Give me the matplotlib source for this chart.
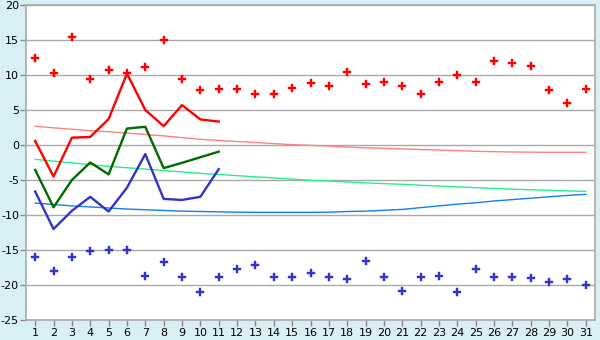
import matplotlib
matplotlib.use('Agg')
import matplotlib.pyplot as plt

plt.rcParams['axes.unicode_minus'] = False
plt.rcParams['font.family'] = 'DejaVu Sans'

days = list(range(1, 32))

# верхние точки (красные) и нижние точки (синие)
high_pts = [12.4, 10.3, 15.4, 9.5, 10.7, 10.3, 11.2, 15.0, 9.4, 7.8, 7.95, 7.95, 7.25, 7.25, 8.1,
            8.8, 8.4, 10.5, 8.65, 8.95, 8.4, 7.25, 8.95, 9.95, 8.95, 11.95, 11.65, 11.25, 7.8, 5.95, 7.95]
low_pts = [-16.05, -18.05, -16.05, -15.2, -15.05, -15.05, -18.75, -16.75, -18.9, -21.05, -18.9,
           -17.75, -17.2, -18.9, -18.9, -18.35, -18.9, -19.2, -16.6, -18.9, -20.9, -18.9, -18.75,
           -21.05, -17.75, -18.9, -18.9, -19.05, -19.5, -19.2, -20.05]

# линии за первые 11 дней
line_days = list(range(1, 12))
red_line = [0.57, -4.5, 1.05, 1.15, 3.7, 10.2, 5.0, 2.7, 5.7, 3.65, 3.35]
green_line = [-3.55, -8.9, -5.0, -2.5, -4.2, 2.35, 2.6, -3.3, -2.55, -1.75, -0.95]
blue_line = [-6.65, -12.0, -9.4, -7.4, -9.5, -6.1, -1.3, -7.7, -7.85, -7.4, -3.45]

# тренды
red_trend = [2.67, 2.45, 2.25, 2.05, 1.9, 1.7, 1.5, 1.3, 1.05, 0.81, 0.65, 0.5, 0.35, 0.2, 0.05, -0.05,
             -0.15, -0.3, -0.4, -0.48, -0.55, -0.65, -0.72, -0.8, -0.9, -0.95, -1.0, -1.02, -1.05, -1.05, -1.05]
green_trend = [-2.05, -2.3, -2.55, -2.8, -3.05, -3.25, -3.45, -3.65, -3.85, -4.05, -4.2, -4.38, -4.55, -4.7,
               -4.88, -5.05, -5.15, -5.28, -5.4, -5.52, -5.62, -5.75, -5.87, -5.98, -6.1, -6.2, -6.3,
               -6.4, -6.48, -6.55, -6.62]
blue_trend = [-8.3, -8.5, -8.7, -8.85, -9.0, -9.15, -9.25, -9.35, -9.45, -9.5, -9.55, -9.6, -9.62, -9.62,
              -9.62, -9.62, -9.6, -9.5, -9.45, -9.33, -9.2, -8.95, -8.7, -8.45, -8.25, -8.0, -7.8, -7.6,
              -7.4, -7.2, -7.05]

y_ticks = list(range(-25, 21, 5))

fig = plt.figure(figsize=(6, 3.4), dpi=100, facecolor='#D9EFF6')
ax = fig.add_axes([26 / 600, 1 - 320 / 340, 569 / 600, 315 / 340])
ax.set_facecolor('white')

ax.plot(days, red_trend, color='#FF8080', lw=1.0)
ax.plot(days, green_trend, color='#22F088', lw=1.0)
ax.plot(days, blue_trend, color='#1080F0', lw=1.0)

ax.plot(line_days, red_line, color='#FF0000', lw=1.7)
ax.plot(line_days, green_line, color='#006A00', lw=1.7)
ax.plot(line_days, blue_line, color='#3333CC', lw=1.7)

ax.plot(days, high_pts, ls='none', marker='P', ms=5.5, color='#FF0000', mew=0.3)
ax.plot(days, low_pts, ls='none', marker='P', ms=5.5, color='#3333CC', mew=0.3)

ax.set_xlim(0.5, 31.5)
ax.set_ylim(-25, 20)
ax.set_xticks(days)
ax.set_yticks(y_ticks)
ax.yaxis.grid(True, color='#AAAAAA', lw=1.0)
ax.set_axisbelow(True)
for s in ax.spines.values():
    s.set_color('#AAAAAA')
    s.set_linewidth(1.2)
ax.tick_params(axis='both', colors='#888888', labelcolor='black', labelsize=8, length=4, width=1)
ax.tick_params(axis='x', pad=2)
ax.tick_params(axis='y', pad=1)

fig.savefig('out.png', dpi=100, facecolor=fig.get_facecolor())
